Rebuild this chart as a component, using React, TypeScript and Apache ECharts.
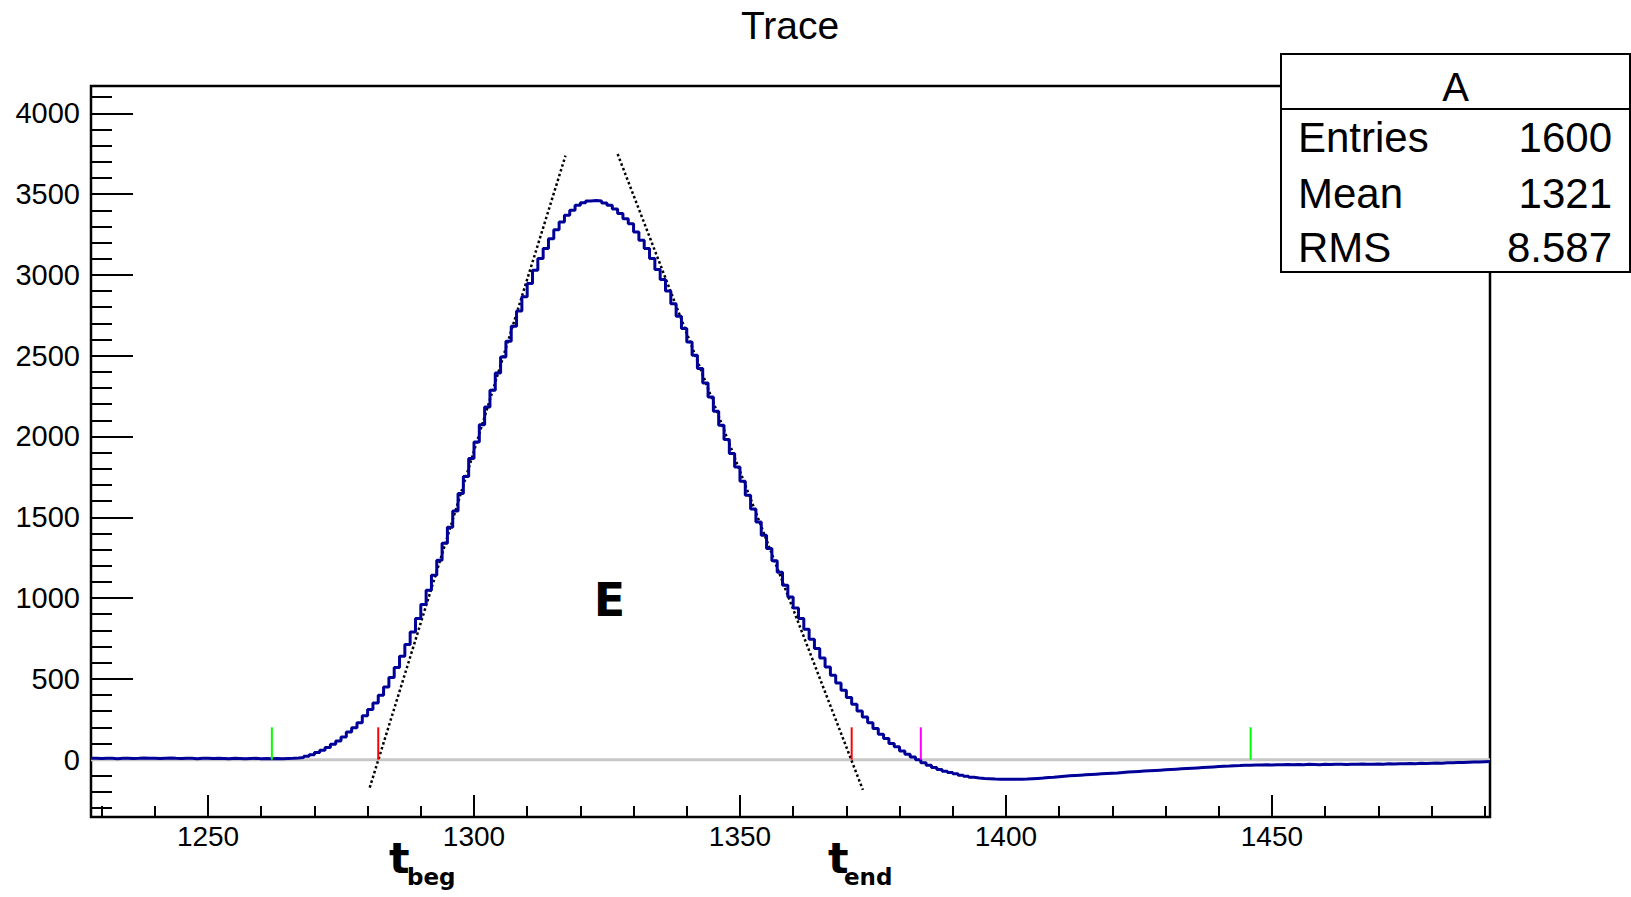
import React, { useEffect, useRef } from "react";
import * as echarts from "echarts";

// ---- data ----
const binStart = 1228;
const traceValues = [
  // 1228 - 1266 baseline
  8, 7, 9, 8, 6, 8, 9, 7, 8, 10, 9, 8, 7, 9, 10, 8, 7, 9, 8, 6,
  8, 9, 7, 8, 7, 6, 8, 7, 6, 7, 8, 6, 7, 6, 7, 6, 7, 8, 10,
  // 1267 - 1299 rising
  13, 21, 31, 44, 58, 75, 95, 116, 140, 171, 198, 229, 271, 310, 351, 398, 450,
  508, 570, 640, 712, 790, 873, 960, 1048, 1141, 1234, 1339, 1438, 1538, 1647, 1752, 1863,
  // 1300 - 1322
  1966, 2073, 2183, 2286, 2393, 2492, 2589, 2682, 2777, 2864, 2946, 3028, 3101, 3163,
  3224, 3280, 3327, 3369, 3400, 3431, 3447, 3457, 3461,
  // 1323 - 1357 falling
  3457, 3445, 3431, 3408, 3380, 3348, 3317, 3265, 3214, 3163, 3101, 3033, 2971, 2901,
  2822, 2744, 2668, 2585, 2502, 2420, 2331, 2244, 2156, 2069, 1981, 1894, 1811, 1723,
  1636, 1551, 1471, 1389, 1306, 1231, 1160,
  // 1358 - 1394
  1079, 1007, 939, 873, 807, 745, 688, 629, 574, 522, 475, 430, 384, 343, 301, 264,
  229, 192, 157, 131, 100, 79, 54, 33, 17, 0, -20, -35, -49, -61, -72, -80, -88, -96,
  -103, -109, -113,
  // 1395 - 1446 undershoot
  -116, -118, -120, -121, -122, -122, -122, -121, -120, -118, -116, -114, -111, -109,
  -106, -103, -100, -98, -96, -94, -92, -90, -88, -86, -84, -82, -79, -77, -75, -73,
  -71, -69, -67, -65, -63, -61, -59, -57, -55, -53, -51, -49, -47, -45, -43, -41, -40,
  -38, -37, -35, -34, -33,
  // 1447 - 1490 tail
  -33, -32, -33, -31, -32, -30, -31, -30, -31, -29, -30, -31, -29, -30, -28, -29, -30,
  -28, -29, -27, -28, -29, -27, -28, -26, -27, -25, -26, -24, -25, -23, -24, -22, -21,
  -22, -20, -19, -18, -17, -16, -15, -14, -13, -12,
];

const xMin = 1228;
const xMax = 1491;
const yMin = -355;
const yMax = 4169;

const xMajorTicks = [1250, 1300, 1350, 1400, 1450];
const xMinorTicks = [
  1230, 1240, 1250, 1260, 1270, 1280, 1290, 1300, 1310, 1320, 1330, 1340, 1350, 1360,
  1370, 1380, 1390, 1400, 1410, 1420, 1430, 1440, 1450, 1460, 1470, 1480, 1490,
];
const yMajorTicks = [0, 500, 1000, 1500, 2000, 2500, 3000, 3500, 4000];
const yMinorTicks = [
  -300, -200, -100, 0, 100, 200, 300, 400, 500, 600, 700, 800, 900, 1000, 1100, 1200,
  1300, 1400, 1500, 1600, 1700, 1800, 1900, 2000, 2100, 2200, 2300, 2400, 2500, 2600,
  2700, 2800, 2900, 3000, 3100, 3200, 3300, 3400, 3500, 3600, 3700, 3800, 3900, 4000, 4100,
];

const tangentBeg = [
  [1280.4, -173],
  [1317.2, 3738],
];
const tangentEnd = [
  [1327.0, 3748],
  [1373.1, -187],
];

const markerBins = [1262, 1282, 1371, 1384, 1446];
const markerHeight = 200;

const titleText = "Trace";
const statsTitle = "A";
const statsLabels = ["Entries", "Mean", "RMS"];
const statsValues = ["1600", "1321", "8.587"];

const markerColors = ["#00ff00", "#ff0000", "#ff0000", "#ff00ff", "#00ff00"];

export default function App() {
  const ref = useRef<HTMLDivElement>(null);

  useEffect(() => {
    if (!ref.current) return;
    const chart = echarts.init(ref.current, null, { renderer: "svg" });

    const histData: number[][] = traceValues.map((v, i) => [binStart + i, v]);
    histData.push([binStart + traceValues.length, traceValues[traceValues.length - 1]]);

    const font = "Liberation Sans";
    const plain = (v: number) => String(v);

    const markerSeries = markerBins.map((b, i) => ({
      type: "line",
      data: [
        [b, 0],
        [b, markerHeight],
      ],
      symbol: "none",
      silent: true,
      z: 4,
      lineStyle: { color: markerColors[i], width: 2 },
    }));

    const txt = (
      text: string,
      x: number,
      y: number,
      size: number,
      align: string,
      family = font,
      weight = "normal"
    ) => ({
      type: "text",
      x,
      y,
      z: 100,
      style: {
        text,
        fontSize: size,
        fontFamily: family,
        fontWeight: weight,
        fill: "#000",
        align,
        verticalAlign: "middle",
        textAlign: align,
        textVerticalAlign: "middle",
      },
    });

    const statsRowsY = [137, 193, 247];

    const xAxisBase = {
      type: "value",
      min: xMin,
      max: xMax,
      position: "bottom",
      axisLine: { show: false, onZero: false },
      splitLine: { show: false },
    };
    const yAxisBase = {
      type: "value",
      min: yMin,
      max: yMax,
      position: "left",
      axisLine: { show: false, onZero: false },
      splitLine: { show: false },
    };

    chart.setOption({
      animation: false,
      grid: {
        left: 91,
        top: 86,
        right: 141,
        bottom: 80,
        show: true,
        borderColor: "#000",
        borderWidth: 2.5,
        backgroundColor: "transparent",
      },
      xAxis: [
        {
          ...xAxisBase,
          axisTick: {
            show: true,
            inside: true,
            length: 22,
            customValues: xMajorTicks,
            lineStyle: { color: "#000", width: 2 },
          },
          axisLabel: {
            customValues: xMajorTicks,
            formatter: plain,
            fontSize: 28,
            fontFamily: font,
            color: "#000",
            margin: 5,
          },
        },
        {
          ...xAxisBase,
          axisTick: {
            show: true,
            inside: true,
            length: 11,
            customValues: xMinorTicks,
            lineStyle: { color: "#000", width: 2 },
          },
          axisLabel: { show: false },
        },
      ],
      yAxis: [
        {
          ...yAxisBase,
          axisTick: {
            show: true,
            inside: true,
            length: 42,
            customValues: yMajorTicks,
            lineStyle: { color: "#000", width: 2 },
          },
          axisLabel: {
            customValues: yMajorTicks,
            formatter: plain,
            fontSize: 29,
            fontFamily: font,
            color: "#000",
            margin: 11,
          },
        },
        {
          ...yAxisBase,
          axisTick: {
            show: true,
            inside: true,
            length: 21,
            customValues: yMinorTicks,
            lineStyle: { color: "#000", width: 2 },
          },
          axisLabel: { show: false },
        },
      ],
      series: [
        {
          type: "line",
          data: [
            [xMin, 0],
            [xMax, 0],
          ],
          symbol: "none",
          silent: true,
          z: 1,
          lineStyle: { color: "#c8c8c8", width: 3 },
        },
        {
          type: "line",
          data: tangentBeg,
          symbol: "none",
          silent: true,
          z: 2,
          lineStyle: { color: "#000", width: 2.5, type: [2.5, 2.5] },
        },
        {
          type: "line",
          data: tangentEnd,
          symbol: "none",
          silent: true,
          z: 2,
          lineStyle: { color: "#000", width: 2.5, type: [2.5, 2.5] },
        },
        {
          type: "line",
          data: histData,
          step: "end",
          symbol: "none",
          silent: true,
          z: 3,
          lineStyle: { color: "#000099", width: 3 },
        },
        ...markerSeries,
      ],
      graphic: [
        txt(titleText, 790, 25, 39, "center"),
        {
          type: "rect",
          z: 90,
          shape: { x: 1281, y: 54, width: 349, height: 218 },
          style: { fill: "#fff", stroke: "#000", lineWidth: 2 },
        },
        {
          type: "line",
          z: 91,
          shape: { x1: 1281, y1: 109, x2: 1630, y2: 109 },
          style: { stroke: "#000", lineWidth: 2 },
        },
        txt(statsTitle, 1455.5, 87, 40, "center"),
        ...statsLabels.map((l, i) => txt(l, 1298, statsRowsY[i], 42, "left")),
        ...statsValues.map((v, i) => txt(v, 1612, statsRowsY[i], 42, "right")),
        txt("E", 609.5, 600, 46, "center", "DejaVu Sans", "bold"),
        txt("t", 389, 858, 43, "left", "DejaVu Sans", "bold"),
        txt("beg", 407, 877, 23, "left", "DejaVu Sans", "bold"),
        txt("t", 828, 858, 43, "left", "DejaVu Sans", "bold"),
        txt("end", 844, 877, 23, "left", "DejaVu Sans", "bold"),
      ],
    });

    return () => chart.dispose();
  }, []);

  return (
    <div
      ref={ref}
      style={{ position: "fixed", left: 0, top: 0, width: 1631, height: 897, background: "#fff" }}
    />
  );
}
